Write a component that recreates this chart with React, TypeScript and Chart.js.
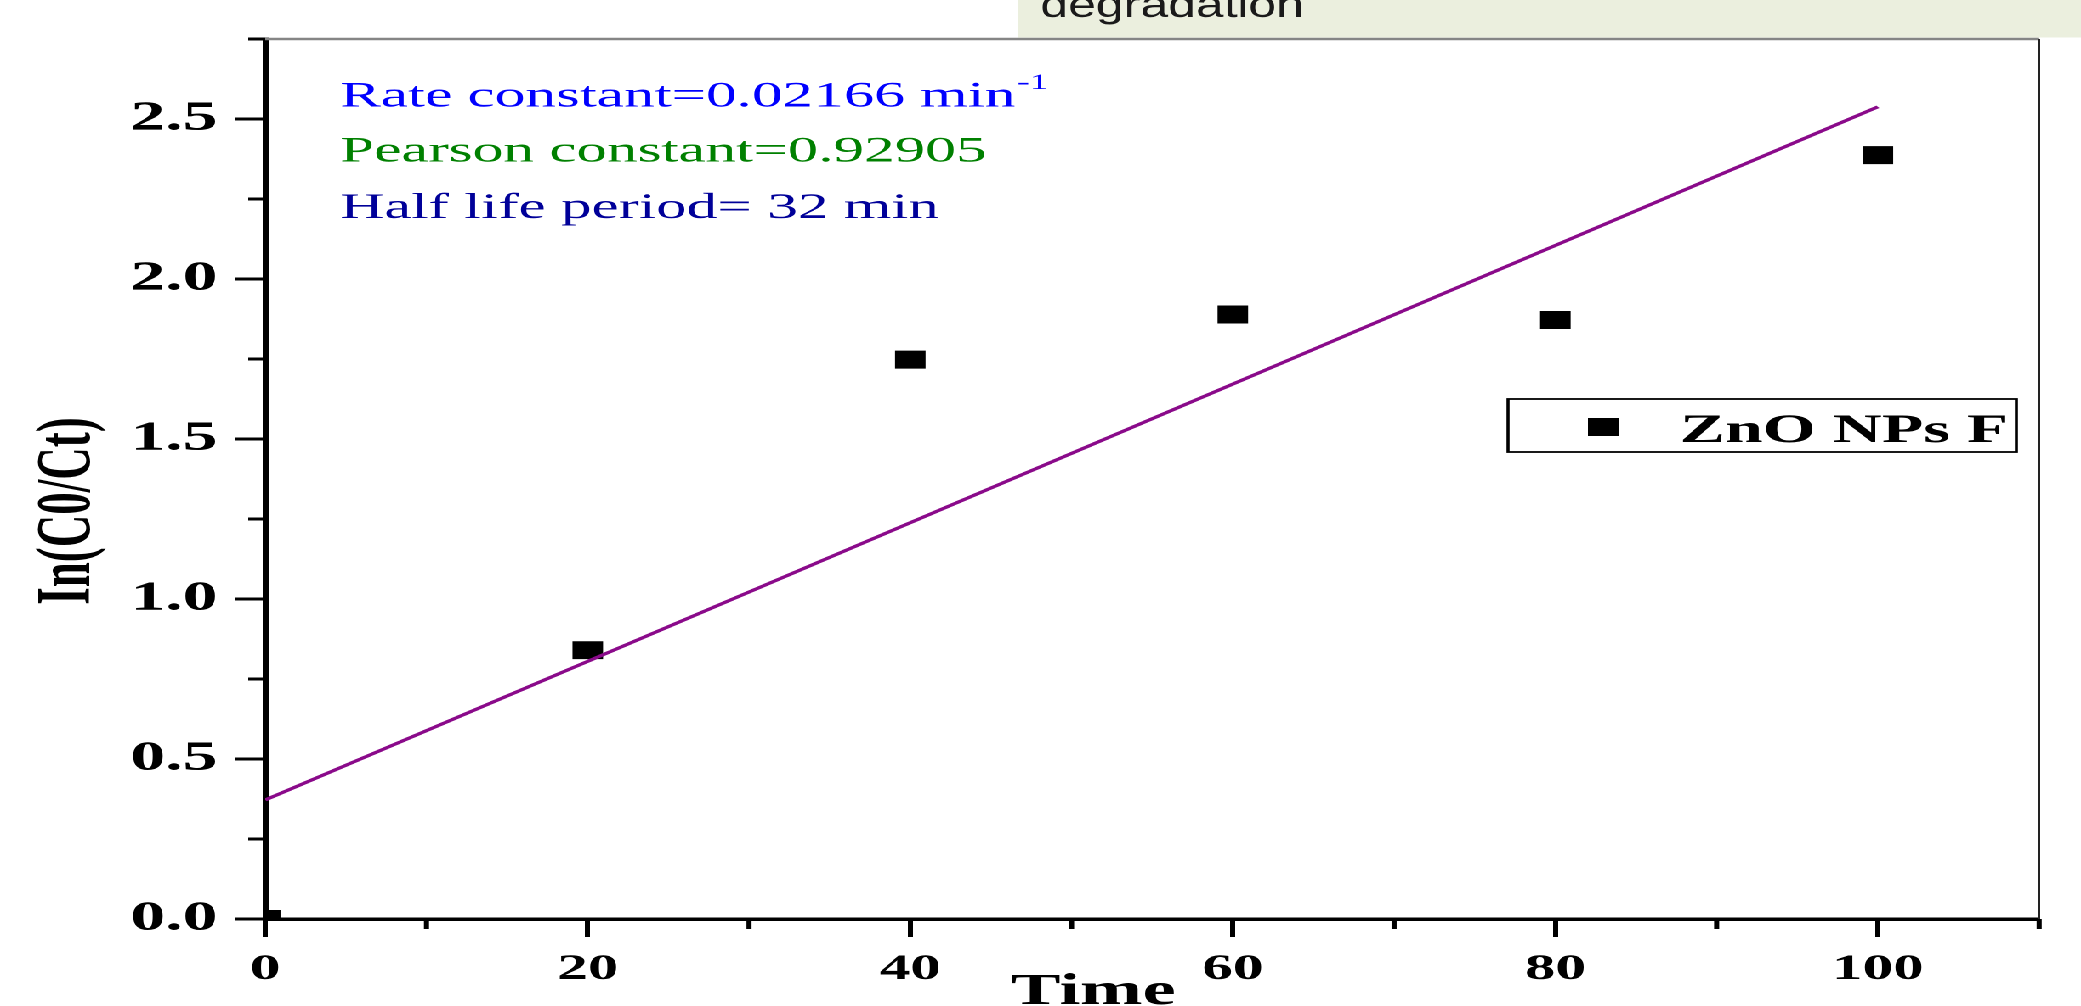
import { useEffect, useRef } from "react";
import { Chart, registerables } from "chart.js";

Chart.register(...registerables);

// ---- data ----
const timePoints = [0, 20, 40, 60, 80, 100];
const lnRatio = [0.0, 0.84, 1.748, 1.889, 1.872, 2.387];
const fitTime = [0, 100];
const fitValue = [0.372, 2.538];
const seriesLabel = "ZnO NPs F";
const xMinorTicks = [10, 30, 50, 70, 90, 110];
const yMinorTicks = [0.25, 0.75, 1.25, 1.75, 2.25, 2.75];
const annotationLines = [
  "Rate constant=0.02166 min",
  "Pearson constant=0.92905",
  "Half life period= 32 min",
];
const annotationColors = ["#0000ff", "#008000", "#000099"];
const rateSuperscript = "-1";
const headerText = "degradation";
const xTitle = "Time";
const yTitle = "In(C0/Ct)";

// ---- canvas geometry (the reference is horizontally stretched) ----
const W = 1224;
const H = 1006;
const SX = 2081 / W;
const SERIF = "'Liberation Serif', 'Times New Roman', serif";
const SANS = "'Liberation Sans', Arial, sans-serif";

const overlay = {
  id: "overlay",
  afterDraw(chart: any) {
    const { ctx, chartArea: a, scales } = chart;
    const xs = scales.x;
    const ys = scales.y;
    ctx.save();

    // minor ticks
    ctx.strokeStyle = "#000";
    ctx.lineWidth = 3;
    ctx.lineCap = "butt";
    xMinorTicks.forEach((v) => {
      const px = xs.getPixelForValue(v);
      ctx.beginPath();
      ctx.moveTo(px, a.bottom);
      ctx.lineTo(px, a.bottom + 10);
      ctx.stroke();
    });
    yMinorTicks.forEach((v) => {
      const py = ys.getPixelForValue(v);
      ctx.beginPath();
      ctx.moveTo(a.left, py);
      ctx.lineTo(a.left - 10, py);
      ctx.stroke();
    });

    // top (gray) and right (thin) frame lines
    ctx.strokeStyle = "#858585";
    ctx.lineWidth = 2.5;
    ctx.beginPath();
    ctx.moveTo(a.left, a.top);
    ctx.lineTo(a.right, a.top);
    ctx.stroke();
    ctx.strokeStyle = "#222";
    ctx.lineWidth = 1.2;
    ctx.beginPath();
    ctx.moveTo(a.right, a.top);
    ctx.lineTo(a.right, a.bottom);
    ctx.stroke();

    // header box
    ctx.fillStyle = "#ebefde";
    ctx.fillRect(599, 0, W - 599, 37.5);
    ctx.save();
    ctx.fillStyle = "#1a1a1a";
    ctx.font = `37px ${SANS}`;
    ctx.textAlign = "left";
    ctx.textBaseline = "alphabetic";
    const hw = ctx.measureText(headerText).width;
    ctx.translate(612, 17);
    ctx.scale(155 / hw, 1);
    ctx.fillText(headerText, 0, 0);
    ctx.restore();

    // annotation text
    const baselines = [106.7, 161.7, 218];
    ctx.textAlign = "left";
    ctx.textBaseline = "alphabetic";
    ctx.font = `36px ${SERIF}`;
    annotationLines.forEach((t, i) => {
      ctx.fillStyle = annotationColors[i];
      ctx.fillText(t, 200, baselines[i]);
    });
    const w0 = ctx.measureText(annotationLines[0]).width;
    ctx.fillStyle = annotationColors[0];
    ctx.font = `22px ${SERIF}`;
    ctx.fillText(rateSuperscript, 200 + w0 + 1, 89);

    // legend
    ctx.strokeStyle = "#000";
    ctx.lineWidth = 1.8;
    ctx.strokeRect(887, 399, 299, 53);
    const ds = chart.data.datasets[1];
    ctx.fillStyle = ds.pointBackgroundColor;
    ctx.fillRect(934, 418, 18, 18);
    ctx.fillStyle = "#000";
    ctx.font = `bold 40px ${SERIF}`;
    ctx.fillText(ds.label, 988, 442);

    // axis titles
    ctx.font = `bold 44px ${SERIF}`;
    ctx.textAlign = "center";
    ctx.fillText(xTitle, 643, 1004);

    ctx.save();
    ctx.translate(41, 511);
    ctx.rotate(-Math.PI / 2);
    ctx.font = `bold 45px ${SERIF}`;
    ctx.textAlign = "center";
    ctx.textBaseline = "middle";
    ctx.fillText(yTitle, 0, 0);
    ctx.restore();

    ctx.restore();
  },
};

export default function App() {
  const ref = useRef<HTMLCanvasElement>(null);

  useEffect(() => {
    document.body.style.margin = "0";
    document.documentElement.style.overflow = "hidden";
    const canvas = ref.current;
    if (!canvas) return;

    const chart = new Chart(canvas, {
      type: "scatter",
      data: {
        datasets: [
          {
            type: "line",
            label: "fit",
            data: fitTime.map((t, i) => ({ x: t, y: fitValue[i] })),
            borderColor: "#8a0a8a",
            borderWidth: 3,
            pointRadius: 0,
            fill: false,
            tension: 0,
          } as any,
          {
            type: "scatter",
            label: seriesLabel,
            data: timePoints.map((t, i) => ({ x: t, y: lnRatio[i] })),
            pointStyle: "rect",
            pointRadius: 12,
            pointBackgroundColor: "#000",
            pointBorderColor: "#000",
            pointBorderWidth: 1,
            showLine: false,
            clip: 0,
          } as any,
        ],
      },
      options: {
        animation: false,
        responsive: false,
        devicePixelRatio: 2,
        layout: { padding: { left: 0, top: 39, right: W - 1199.4, bottom: 0 } },
        plugins: { legend: { display: false }, tooltip: { enabled: false } },
        scales: {
          x: {
            type: "linear",
            min: 0,
            max: 110,
            position: "bottom",
            ticks: {
              stepSize: 20,
              includeBounds: false,
              autoSkip: false,
              maxRotation: 0,
              color: "#000",
              padding: 11,
              font: { family: SERIF, size: 36, weight: "bold" },
            },
            grid: {
              drawOnChartArea: false,
              drawTicks: true,
              tickLength: 18,
              tickColor: "#000",
              tickWidth: 3,
            },
            border: { display: true, color: "#000", width: 3.5 },
            afterFit: (s: any) => {
              s.height = 87;
            },
          },
          y: {
            type: "linear",
            min: 0,
            max: 2.75,
            ticks: {
              stepSize: 0.5,
              includeBounds: false,
              autoSkip: false,
              color: "#000",
              padding: 10,
              font: { family: SERIF, size: 41, weight: "bold" },
              callback: (v: any) => Number(v).toFixed(1),
            },
            grid: {
              drawOnChartArea: false,
              drawTicks: true,
              tickLength: 18,
              tickColor: "#000",
              tickWidth: 3,
            },
            border: { display: true, color: "#000", width: 3.5 },
            afterFit: (s: any) => {
              s.width = 156;
            },
          },
        },
      } as any,
      plugins: [overlay],
    });

    return () => chart.destroy();
  }, []);

  return (
    <div
      style={{
        position: "absolute",
        left: 0,
        top: 0,
        width: W,
        height: H,
        transform: `scaleX(${SX})`,
        transformOrigin: "0 0",
        background: "#fff",
      }}
    >
      <canvas ref={ref} width={W} height={H} style={{ display: "block", width: W, height: H }} />
    </div>
  );
}
